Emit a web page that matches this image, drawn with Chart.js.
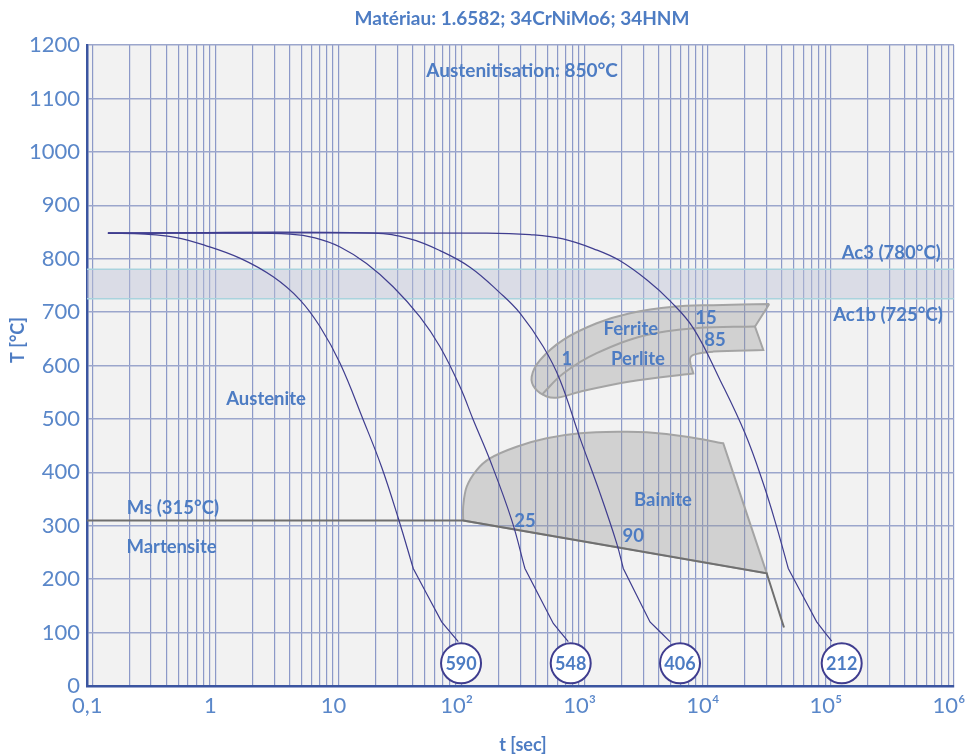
<!DOCTYPE html>
<html>
<head>
<meta charset="utf-8">
<script src="https://cdn.jsdelivr.net/npm/chart.js@4.4.0/dist/chart.umd.min.js"></script>
<style>
  html, body { margin: 0; padding: 0; background: #ffffff; overflow: hidden; }
  #wrap { width: 966px; height: 756px; }
  canvas { display: block; }
</style>
</head>
<body>
<div id="wrap"><canvas id="cct" width="966" height="756"></canvas></div>
<script>
// CCT diagram, 1.6582 / 34CrNiMo6
const X_MIN = 0.0906;
const X_MAX = 1e6;

const xDecades = [0.1, 1, 10, 100, 1000, 1e4, 1e5, 1e6];
const xTickLabels = ['0,1', '1', '10', '10²', '10³', '10⁴', '10⁵', '10⁶'];
const xMinorSteps = [2, 3, 4, 5, 6, 7, 8, 9];

// cooling curves (t in s, T in °C); kink points repeated so they stay sharp
const c590t = [0.134, 0.268, 0.47, 0.823, 1.58, 2.95, 4.86, 7.07, 10.3, 15.9, 22.4, 30.6, 40.5, 40.5, 68.9, 68.9, 94];
const c590T = [848, 846, 840, 825, 801, 766, 723, 673, 604, 498, 410, 314, 220, 220, 120, 120, 83];
const c548t = [0.134, 1.5, 4.04, 6.44, 10.3, 16.9, 27.9, 45.9, 66.8, 97.1, 124.5, 170, 255, 327, 327, 556, 556, 736];
const c548T = [848, 848, 846, 839, 822, 791, 747, 691, 635, 560, 498, 423, 311, 220, 220, 117, 117, 83];
const c406t = [0.134, 19.2, 38.1, 66.8, 117, 205, 298, 461, 630, 916, 1331, 1820, 2059, 2059, 3393, 3393, 4932];
const c406T = [848, 848, 837, 815, 784, 736, 698, 635, 573, 464, 361, 267, 220, 220, 120, 120, 83];
const c212t = [0.134, 160, 360, 666, 1259, 1936, 3207, 4932, 7625, 12570, 20060, 28240, 36280, 45070, 45070, 76660, 76660, 101500];
const c212T = [848, 848, 845, 837, 816, 796, 760, 721, 670, 573, 473, 379, 298, 220, 220, 120, 120, 84];

// hardness circles at the end of each curve
const hvLabels = ['590', '548', '406', '212'];
const hvT = [99, 770, 5947, 122400];
const hvTemp = [42.5, 42.5, 42.5, 42.5];

// Ms line + lower bainite boundary
const msT = [X_MIN, 103, 30100, 41590];
const msTemp = [310, 310, 211, 109.5];

// bainite field (corners repeated to keep them sharp)
const bainT = [103, 103, 110, 132.7, 170, 280, 491, 916, 1936, 3189, 6740, 13360, 13360, 30100, 30100, 103];
const bainTemp = [310, 335.6, 373, 404.3, 426.2, 448, 463.7, 473, 476, 475, 466.7, 454.3, 454.3, 211, 211, 310];

// ferrite / perlite field
const ferT = [31600, 11080, 5245, 2333, 1252, 670, 433.5, 371, 395, 491, 610, 916, 2333, 7625, 7625, 7168, 7625, 11080, 28240, 28240, 24180, 24180, 31600];
const ferTemp = [715, 713, 710, 698, 679, 648, 610, 579, 557, 542, 540, 551, 570, 585, 585, 610, 620, 626, 629, 629, 673, 673, 715];
const divT = [447, 670, 1252, 3189, 8124, 24180];
const divTemp = [545, 585, 623, 657, 670, 673];

// critical temperatures
const ac3 = 780;
const ac1b = 725;

// text notes placed in data coordinates
const noteTexts = ['Austenite', 'Ms (315°C)', 'Martensite', 'Ferrite', 'Perlite', '1', '15', '85', 'Bainite', '25', '90'];
const noteT = [2.58, 0.452, 0.44, 2371, 2710, 718, 9660, 11440, 4325, 327, 2476];
const noteTemp = [537, 333, 260, 668, 612, 612, 689, 648, 348, 309, 281];
const acTexts = ['Ac3 (780°C)', 'Ac1b (725°C)'];
const acT = [7.8e5, 8.1e5];
const acTemp = [810, 694];

const BLUE = '#4d7cc3';
const NAVY = '#3f3d8f';
const FONT = "Lato, 'Open Sans', sans-serif";

const pts = (ts, Ts) => ts.map((t, i) => ({ x: t, y: Ts[i] }));

function curve(ts, Ts) {
    return {
        data: pts(ts, Ts),
        borderColor: NAVY,
        borderWidth: 1.2,
        pointRadius: 0,
        tension: 0.4,
        fill: false,
        order: 0
    };
}

const bgPlugin = {
    id: 'bg',
    beforeDraw(chart) {
        const { ctx, chartArea: a } = chart;
        ctx.save();
        ctx.fillStyle = '#ffffff';
        ctx.fillRect(0, 0, chart.width, chart.height);
        ctx.fillStyle = '#f2f2f2';
        ctx.fillRect(a.left, a.top, a.right - a.left, a.bottom - a.top);
        ctx.restore();
    }
};

const textPlugin = {
    id: 'texts',
    afterDraw(chart) {
        const { ctx, scales: { x, y } } = chart;
        ctx.save();
        ctx.textBaseline = 'middle';
        ctx.textAlign = 'center';
        ctx.fillStyle = BLUE;

        // title
        ctx.font = 'bold 19px ' + FONT;
        ctx.fillText('Matériau: 1.6582; 34CrNiMo6; 34HNM', 522, 19);
        ctx.fillText('Austenitisation: 850°C', x.getPixelForValue(310), y.getPixelForValue(1151));

        // axis titles
        ctx.font = 'bold 18px ' + FONT;
        ctx.fillText('t [sec]', 523, 745);
        ctx.save();
        ctx.translate(18, 340);
        ctx.rotate(-Math.PI / 2);
        ctx.fillText('T [°C]', 0, 0);
        ctx.restore();

        ctx.font = 'bold 18.5px ' + FONT;
        noteTexts.forEach((s, i) => {
            ctx.fillText(s, x.getPixelForValue(noteT[i]), y.getPixelForValue(noteTemp[i]));
        });
        ctx.textAlign = 'right';
        acTexts.forEach((s, i) => {
            ctx.fillText(s, x.getPixelForValue(acT[i]), y.getPixelForValue(acTemp[i]));
        });

        ctx.textAlign = 'center';
        ctx.font = 'bold 18px ' + FONT;
        hvLabels.forEach((s, i) => {
            ctx.fillText(s, x.getPixelForValue(hvT[i]), y.getPixelForValue(hvTemp[i]) + 1);
        });
        ctx.restore();
    }
};

new Chart(document.getElementById('cct'), {
    type: 'line',
    data: {
        datasets: [
            {
                data: pts(hvT, hvTemp),
                showLine: false,
                pointRadius: 20,
                pointHoverRadius: 20,
                pointBackgroundColor: '#ffffff',
                pointBorderColor: NAVY,
                pointBorderWidth: 2,
                order: -2
            },
            curve(c590t, c590T),
            curve(c548t, c548T),
            curve(c406t, c406T),
            curve(c212t, c212T),
            {
                data: pts(msT, msTemp),
                borderColor: '#6f6f6f',
                borderWidth: 2,
                pointRadius: 0,
                tension: 0,
                fill: false,
                order: 1
            },
            {
                data: pts(divT, divTemp),
                borderColor: '#a4a4a4',
                borderWidth: 2,
                pointRadius: 0,
                tension: 0.4,
                fill: false,
                order: 2
            },
            {
                data: pts(ferT, ferTemp),
                borderColor: '#a4a4a4',
                borderWidth: 2,
                backgroundColor: 'rgba(150,150,150,0.35)',
                pointRadius: 0,
                tension: 0.35,
                fill: 'shape',
                order: 3
            },
            {
                data: pts(bainT, bainTemp),
                borderColor: '#a4a4a4',
                borderWidth: 2,
                backgroundColor: 'rgba(150,150,150,0.35)',
                pointRadius: 0,
                tension: 0.35,
                fill: 'shape',
                order: 3
            },
            {
                data: pts([X_MIN, X_MAX], [ac3, ac3]),
                borderColor: '#a9d3dd',
                borderWidth: 1.5,
                pointRadius: 0,
                fill: false,
                order: 5
            },
            {
                data: pts([X_MIN, X_MAX], [ac1b, ac1b]),
                borderColor: '#a9d3dd',
                borderWidth: 1.5,
                backgroundColor: 'rgba(188,194,214,0.45)',
                pointRadius: 0,
                fill: { value: ac3 },
                order: 5
            }
        ]
    },
    options: {
        responsive: false,
        animation: false,
        events: [],
        layout: {
            autoPadding: false,
            padding: { top: 45, right: 12, left: 0, bottom: 0 }
        },
        plugins: {
            legend: { display: false },
            tooltip: { enabled: false },
            title: { display: false }
        },
        scales: {
            x: {
                type: 'logarithmic',
                min: X_MIN,
                max: X_MAX,
                afterBuildTicks: (s) => {
                    const ticks = [];
                    xDecades.forEach((d, i) => {
                        ticks.push({ value: d });
                        if (i < xDecades.length - 1) {
                            xMinorSteps.forEach(k => ticks.push({ value: d * k }));
                        }
                    });
                    s.ticks = ticks;
                },
                afterFit: (s) => {
                    s.height = 70;
                    s.paddingLeft = 0;
                    s.paddingRight = 0;
                },
                grid: {
                    color: '#8c99c8',
                    lineWidth: 1.2,
                    drawTicks: false
                },
                border: { color: '#3b55a0', width: 2.5 },
                ticks: {
                    autoSkip: false,
                    maxRotation: 0,
                    padding: 7,
                    labelOffset: -5,
                    color: '#5a87c9',
                    font: { family: FONT, size: 22 },
                    callback: function(value) {
                        const lg = Math.log10(value);
                        if (Math.abs(lg - Math.round(lg)) < 1e-6) {
                            return xTickLabels[Math.round(lg) + 1];
                        }
                        return '';
                    }
                }
            },
            y: {
                min: 0,
                max: 1200,
                afterFit: (s) => {
                    s.width = 87;
                },
                grid: {
                    color: '#9ba6cc',
                    lineWidth: 1.5,
                    drawTicks: false
                },
                border: { color: '#3b55a0', width: 2.5 },
                ticks: {
                    stepSize: 100,
                    padding: 7,
                    color: '#5a87c9',
                    font: { family: FONT, size: 22 },
                    callback: (v) => String(v)
                }
            }
        }
    },
    plugins: [bgPlugin, textPlugin]
});
</script>
</body>
</html>
